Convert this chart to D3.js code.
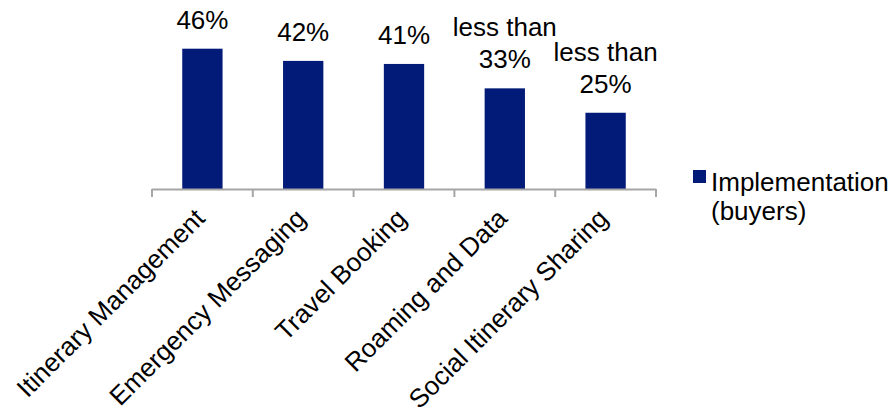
<!DOCTYPE html>
<html>
<head>
<meta charset="utf-8">
<script src="https://cdn.jsdelivr.net/npm/d3@7"></script>
<style>
  body { margin: 0; background: #fff; }
  text { font-family: "Liberation Sans", Arial, sans-serif; fill: #000; }
</style>
</head>
<body>
<div class="svg"></div>
<script>
var categories = ["Itinerary Management", "Emergency Messaging", "Travel Booking", "Roaming and Data", "Social Itinerary Sharing"];
var values = [46, 42, 41, 33, 25];
var valueLabels = [["46%"], ["42%"], ["41%"], ["less than", "33%"], ["less than", "25%"]];
var seriesName = ["Implementation", "(buyers)"];

var width = 892,
    height = 415,
    base = 189,
    barColor = "#021b79",
    fontSize = 26;

var svg = d3.select(".svg").append("svg")
    .attr("width", width)
    .attr("height", height);

var x = d3.scaleBand()
    .domain(categories)
    .range([152, 656])
    .paddingInner(0.6)
    .paddingOuter(0.3);

var y = d3.scaleLinear()
    .domain([0, 50])
    .range([base, 36.5]);

// bars
svg.selectAll("rect.bar")
    .data(values)
    .enter().append("rect")
    .attr("class", "bar")
    .attr("x", function (d, i) { return x(categories[i]); })
    .attr("y", function (d) { return y(d); })
    .attr("width", x.bandwidth())
    .attr("height", function (d) { return base - y(d); })
    .attr("fill", barColor);

// value labels above bars
var lab = svg.selectAll("text.val")
    .data(values)
    .enter().append("text")
    .attr("class", "val")
    .attr("text-anchor", "middle")
    .style("font-size", fontSize + "px");

lab.each(function (d, i) {
    var lines = valueLabels[i],
        cx = x(categories[i]) + x.bandwidth() / 2,
        yb = y(d) - 20;
    var t = d3.select(this);
    lines.forEach(function (s, j) {
        t.append("tspan")
            .attr("x", cx)
            .attr("y", yb - (lines.length - 1 - j) * 32)
            .text(s);
    });
});

// category axis
var axis = svg.append("g");
axis.append("line")
    .attr("x1", x.range()[0]).attr("x2", x.range()[1])
    .attr("y1", base + 0.5).attr("y2", base + 0.5)
    .attr("stroke", "#a6a6a6").attr("stroke-width", 2);

var bounds = d3.range(categories.length + 1).map(function (i) {
    return x.range()[0] + i * x.step();
});
axis.selectAll("line.tick")
    .data(bounds)
    .enter().append("line")
    .attr("class", "tick")
    .attr("x1", function (d) { return d; }).attr("x2", function (d) { return d; })
    .attr("y1", base).attr("y2", base + 8)
    .attr("stroke", "#a6a6a6").attr("stroke-width", 2);

axis.selectAll("text.cat")
    .data(categories)
    .enter().append("text")
    .attr("class", "cat")
    .attr("text-anchor", "end")
    .style("font-size", fontSize + "px")
    .attr("transform", function (d) {
        var cx = x(d) + x.bandwidth() / 2 + 4;
        return "translate(" + cx + "," + (base + 31) + ") rotate(-45)";
    })
    .text(function (d) { return d; });

// legend
var leg = svg.append("g");
leg.append("rect")
    .attr("x", 693).attr("y", 170)
    .attr("width", 13).attr("height", 13)
    .attr("fill", barColor);
leg.append("text")
    .style("font-size", fontSize + "px")
    .selectAll("tspan")
    .data(seriesName)
    .enter().append("tspan")
    .attr("x", 711)
    .attr("y", function (d, i) { return 191 + i * 29; })
    .text(function (d) { return d; });
</script>
</body>
</html>
